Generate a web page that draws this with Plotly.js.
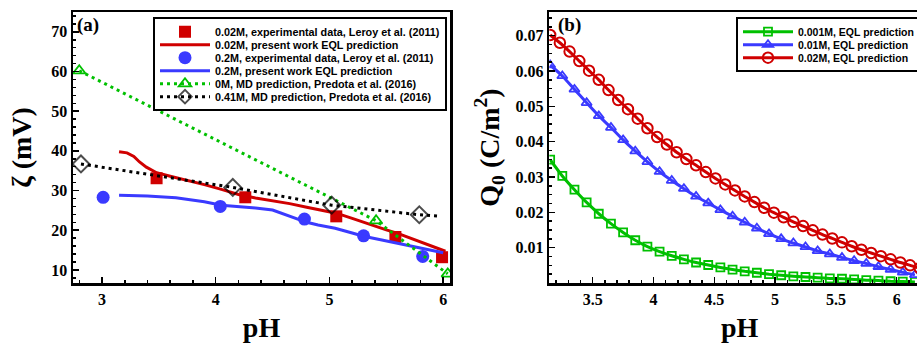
<!DOCTYPE html>
<html><head><meta charset="utf-8">
<script src="https://cdn.plot.ly/plotly-3.0.1.min.js"></script>
<style>html,body{margin:0;padding:0;overflow:hidden;background:#fff}</style>
</head><body><div id="chart" style="width:930px;height:343px"></div>
<script>
// ---------- Panel (a): zeta potential vs pH ----------
const expRedPH   = [3.48, 4.26, 5.06, 5.58, 5.99];
const expRedZeta = [33.1, 28.3, 23.5, 18.3, 13.2];
const eqlRedPH   = [3.15, 3.22, 3.28, 3.33, 3.39, 3.48, 3.6, 3.75, 3.9, 4.05, 4.2, 4.35, 4.5, 4.65, 4.8, 4.95, 5.06, 5.2, 5.35, 5.5, 5.6, 5.75, 5.9, 6.02];
const eqlRedZeta = [39.8, 39.5, 38.6, 37.2, 35.9, 34.5, 33.6, 32.6, 31.5, 30.3, 29.0, 28.1, 27.4, 26.7, 25.8, 25.0, 24.3, 23.0, 21.5, 20.1, 19.2, 17.6, 15.9, 14.7];
const expBluePH   = [3.01, 4.04, 4.78, 5.30, 5.82];
const expBlueZeta = [28.3, 26.0, 22.8, 18.6, 13.4];
const eqlBluePH   = [3.15, 3.4, 3.65, 3.9, 4.05, 4.2, 4.35, 4.5, 4.6, 4.7, 4.8, 4.9, 5.05, 5.2, 5.3, 5.45, 5.6, 5.75, 5.9, 6.0];
const eqlBlueZeta = [28.8, 28.6, 28.2, 27.2, 26.3, 26.0, 25.6, 25.1, 24.1, 22.9, 22.0, 21.3, 20.5, 19.3, 18.5, 17.6, 16.7, 15.9, 15.0, 14.3];
const md0PH   = [2.80, 5.41, 6.04];
const md0Zeta = [60.2, 22.4, 9.0];
const md41PH   = [2.815, 4.15, 5.02, 5.79, 5.98];
const md41Zeta = [36.7, 30.8, 26.3, 23.9, 23.5];
const md41Marked = [true, true, true, true, false];

// ---------- Panel (b): surface charge vs pH ----------
const q001PH = [3.15,3.25,3.35,3.45,3.55,3.65,3.75,3.85,3.95,4.05,4.15,4.25,4.35,4.45,4.55,4.65,4.75,4.85,4.95,5.05,5.15,5.25,5.35,5.45,5.55,5.65,5.75,5.85,5.95,6.05,6.15];
const q001 = [0.0349,0.0303,0.0264,0.0228,0.0196,0.0168,0.0143,0.0121,0.0103,0.0089,0.0077,0.0067,0.0058,0.0051,0.0044,0.0038,0.0033,0.0029,0.0025,0.0022,0.0019,0.0017,0.0015,0.0013,0.0012,0.0010,0.0008,0.0007,0.0005,0.0004,0.0003];
const q01PH = [3.15,3.25,3.35,3.45,3.55,3.65,3.75,3.85,3.95,4.05,4.15,4.25,4.35,4.45,4.55,4.65,4.75,4.85,4.95,5.05,5.15,5.25,5.35,5.45,5.55,5.65,5.75,5.85,5.95,6.05,6.15];
const q01 = [0.0617,0.0586,0.0548,0.0510,0.0473,0.0440,0.0405,0.0373,0.0343,0.0315,0.0290,0.0267,0.0245,0.0226,0.0207,0.0189,0.0172,0.0155,0.0139,0.0125,0.0113,0.0102,0.0091,0.0082,0.0072,0.0063,0.0055,0.0046,0.0038,0.0030,0.0023];
const q02PH = [3.15,3.23,3.31,3.39,3.47,3.55,3.63,3.71,3.79,3.87,3.95,4.03,4.11,4.19,4.27,4.35,4.43,4.51,4.59,4.67,4.75,4.83,4.91,4.99,5.07,5.15,5.23,5.31,5.39,5.47,5.55,5.63,5.71,5.79,5.87,5.95,6.03,6.11,6.19];
const q02 = [0.0702,0.0680,0.0655,0.0628,0.0601,0.0575,0.0546,0.0518,0.0492,0.0465,0.0438,0.0413,0.0392,0.0370,0.0351,0.0333,0.0314,0.0296,0.0279,0.0262,0.0245,0.0229,0.0213,0.0199,0.0186,0.0173,0.0161,0.0149,0.0137,0.0126,0.0115,0.0104,0.0094,0.0085,0.0076,0.0067,0.0058,0.0050,0.0042];

const xTicksA = [3, 4, 5, 6];
const yTicksA = [10, 20, 30, 40, 50, 60, 70];
const xTicksB = [3.5, 4, 4.5, 5, 5.5, 6];
const xTickTextB = ['3.5', '4', '4.5', '5', '5.5', '6'];
const yTicksB = [0.01, 0.02, 0.03, 0.04, 0.05, 0.06, 0.07];

const RED = '#d00000', BLUE = '#3a3aff', GREEN = '#00c000', BLACK = '#000000';
const W = 930, H = 343;
const serif = 'Liberation Serif, Times New Roman, serif';
const sans = 'Liberation Sans, Arial, sans-serif';

const traces = [
  {x: expRedPH, y: expRedZeta, mode: 'markers', name: '0.02M, experimental data, Leroy et al. (2011)',
   marker: {symbol: 'square', size: 12, color: RED}, legend: 'legend'},
  {x: eqlRedPH, y: eqlRedZeta, mode: 'lines', name: '0.02M, present work EQL prediction',
   line: {color: RED, width: 3}, legend: 'legend'},
  {x: expBluePH, y: expBlueZeta, mode: 'markers', name: '0.2M, experimental data, Leroy et al. (2011)',
   marker: {symbol: 'circle', size: 13, color: BLUE}, legend: 'legend'},
  {x: eqlBluePH, y: eqlBlueZeta, mode: 'lines', name: '0.2M, present work EQL prediction',
   line: {color: BLUE, width: 3}, legend: 'legend'},
  {x: md0PH, y: md0Zeta, mode: 'lines+markers', name: '0M, MD prediction, Predota et al. (2016)',
   line: {color: GREEN, width: 3, dash: '3px,4px'},
   marker: {symbol: 'triangle-up-open', size: 11, color: GREEN, line: {width: 1.8, color: GREEN}}, legend: 'legend'},
  {x: md41PH, y: md41Zeta, mode: 'lines+markers', name: '0.41M, MD prediction, Predota et al. (2016)',
   line: {color: BLACK, width: 3, dash: '3px,4px'},
   marker: {symbol: 'diamond-open', size: md41Marked.map(m => m ? 13 : 0), color: BLACK, line: {width: 2, color: BLACK}}, legend: 'legend'},

  {x: q001PH, y: q001, xaxis: 'x2', yaxis: 'y2', mode: 'lines+markers', name: '0.001M, EQL prediction',
   line: {color: GREEN, width: 3, shape: 'spline', smoothing: 0.6},
   marker: {symbol: 'square-open', size: 8, color: GREEN, line: {width: 1.8, color: GREEN}}, legend: 'legend2'},
  {x: q01PH, y: q01, xaxis: 'x2', yaxis: 'y2', mode: 'lines+markers', name: '0.01M, EQL prediction',
   line: {color: BLUE, width: 3, shape: 'spline', smoothing: 0.6},
   marker: {symbol: 'triangle-up-open', size: 9, color: BLUE, line: {width: 1.8, color: BLUE}}, legend: 'legend2'},
  {x: q02PH, y: q02, xaxis: 'x2', yaxis: 'y2', mode: 'lines+markers', name: '0.02M, EQL prediction',
   line: {color: RED, width: 3, shape: 'spline', smoothing: 0.6},
   marker: {symbol: 'circle-open', size: 10.5, color: RED, line: {width: 2, color: RED}}, legend: 'legend2'}
];

const tickFont = {family: serif, size: 16, weight: 'bold', color: '#000'};
const titleFont = {family: serif, size: 28, weight: 'bold', color: '#000'};
const axisCommon = {
  showline: true, mirror: true, linewidth: 2.5, linecolor: '#000',
  ticks: 'inside', ticklen: 6, tickwidth: 1.5, tickcolor: '#000',
  showgrid: false, zeroline: false, tickfont: tickFont, fixedrange: true
};

const legendCommon = {
  xref: 'paper', yref: 'paper', xanchor: 'left', yanchor: 'top',
  bgcolor: '#fff', bordercolor: '#000', borderwidth: 2,
  font: {family: sans, size: 10.8, weight: 'bold', color: '#000'},
  itemwidth: 50, tracegroupgap: 0
};

const layout = {
  width: W, height: H,
  margin: {l: 0, r: 0, t: 12, b: 60},
  paper_bgcolor: '#fff', plot_bgcolor: '#fff',
  showlegend: true,
  xaxis: Object.assign({}, axisCommon, {
    domain: [73 / W, 450 / W], range: [2.745, 6.06], anchor: 'y',
    tickmode: 'array', tickvals: xTicksA,
    minor: {dtick: 0.2, ticks: 'inside', ticklen: 3, tickcolor: '#000', showgrid: false},
    title: {text: 'pH', font: titleFont, standoff: 14}
  }),
  yaxis: Object.assign({}, axisCommon, {
    domain: [0, 1], range: [6.7, 75], anchor: 'x',
    tickmode: 'array', tickvals: yTicksA,
    minor: {dtick: 2, ticks: 'inside', ticklen: 3, tickcolor: '#000', showgrid: false},
    title: {text: 'ζ (mV)', font: titleFont, standoff: 12}
  }),
  xaxis2: Object.assign({}, axisCommon, {
    domain: [549.3 / W, 1], range: [3.143, 6.274], anchor: 'y2',
    tickmode: 'array', tickvals: xTicksB, ticktext: xTickTextB,
    minor: {dtick: 0.1, ticks: 'inside', ticklen: 3, tickcolor: '#000', showgrid: false},
    title: {text: 'pH', font: titleFont, standoff: 14}
  }),
  yaxis2: Object.assign({}, axisCommon, {
    domain: [0, 1], range: [0, 0.0767], anchor: 'x2',
    tickmode: 'array', tickvals: yTicksB, tickformat: '.2f',
    minor: {dtick: 0.0025, ticks: 'inside', ticklen: 3, tickcolor: '#000', showgrid: false},
    title: {text: 'Q<sub>0</sub> (C/m<sup>2</sup>)', font: titleFont, standoff: 8}
  }),
  legend: Object.assign({}, legendCommon, {x: 153 / W, y: 0.981}),
  legend2: Object.assign({}, legendCommon, {x: 736 / W, y: 0.981,
    font: {family: sans, size: 10.5, weight: 'bold', color: '#000'}}),
  annotations: [
    {text: '(a)', xref: 'paper', yref: 'paper', x: 75 / W, y: 1.0, xanchor: 'left', yanchor: 'top',
     showarrow: false, font: {family: serif, size: 19, weight: 'bold', color: '#000'}},
    {text: '(b)', xref: 'paper', yref: 'paper', x: 556 / W, y: 1.0, xanchor: 'left', yanchor: 'top',
     showarrow: false, font: {family: serif, size: 19, weight: 'bold', color: '#000'}}
  ]
};

// Tighten legend row spacing to match the compact legend of the original figure
function compressLegend(gd, cls, step) {
  const leg = gd.querySelector('g.' + cls);
  if (!leg) return;
  const items = Array.from(leg.querySelectorAll('g.traces'));
  if (items.length < 2) return;
  const parse = t => {
    const m = /translate\(\s*([-\d.e]+)[ ,]+([-\d.e]+)/.exec(t || '');
    return m ? [parseFloat(m[1]), parseFloat(m[2])] : null;
  };
  const pos = items.map(it => parse(it.getAttribute('transform')));
  if (pos.some(p => !p)) return;
  const orig = pos[1][1] - pos[0][1];
  if (!(orig > step)) return;
  const y0 = pos[0][1] - 2;
  items.forEach((it, i) => it.setAttribute('transform', 'translate(' + pos[i][0] + ',' + (y0 + i * step) + ')'));
  const shrink = (orig - step) * (items.length - 1) + 4;
  leg.querySelectorAll('rect.bg').forEach(bg => {
    const h = parseFloat(bg.getAttribute('height'));
    if (isFinite(h)) bg.setAttribute('height', h - shrink);
  });
}

Plotly.newPlot('chart', traces, layout, {displayModeBar: false, staticPlot: true}).then(gd => {
  compressLegend(gd, 'legend', 13);
  compressLegend(gd, 'legend2', 13);
});
</script></body></html>
